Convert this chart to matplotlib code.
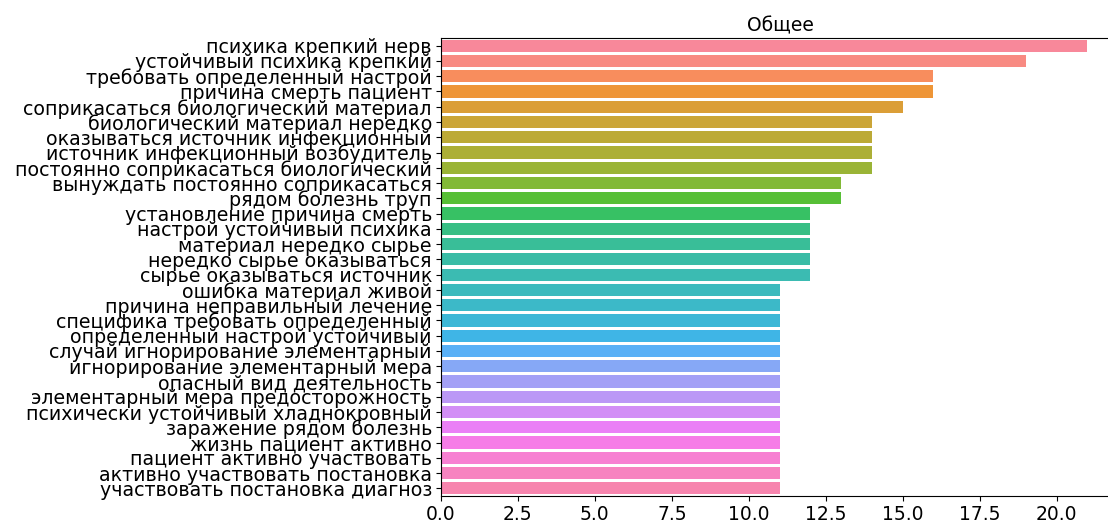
import matplotlib
matplotlib.use("Agg")
import matplotlib.pyplot as plt
import seaborn as sns

# Trigrams and their counts
labels = [
    "психика крепкий нерв",
    "устойчивый психика крепкий",
    "требовать определенный настрой",
    "причина смерть пациент",
    "соприкасаться биологический материал",
    "биологический материал нередко",
    "оказываться источник инфекционный",
    "источник инфекционный возбудитель",
    "постоянно соприкасаться биологический",
    "вынуждать постоянно соприкасаться",
    "рядом болезнь труп",
    "установление причина смерть",
    "настрой устойчивый психика",
    "материал нередко сырье",
    "нередко сырье оказываться",
    "сырье оказываться источник",
    "ошибка материал живой",
    "причина неправильный лечение",
    "специфика требовать определенный",
    "определенный настрой устойчивый",
    "случай игнорирование элементарный",
    "игнорирование элементарный мера",
    "опасный вид деятельность",
    "элементарный мера предосторожность",
    "психически устойчивый хладнокровный",
    "заражение рядом болезнь",
    "жизнь пациент активно",
    "пациент активно участвовать",
    "активно участвовать постановка",
    "участвовать постановка диагноз",
]
counts = [21, 19, 16, 16, 15, 14, 14, 14, 14, 13, 13, 12, 12, 12, 12, 12,
          11, 11, 11, 11, 11, 11, 11, 11, 11, 11, 11, 11, 11, 11]

fig = plt.figure(figsize=(11.08, 5.23), dpi=100)
# axes run past the right edge, as in the cropped original
ax = fig.add_axes([0.398, 0.0516, 0.6125, 0.8757])

colors = sns.husl_palette(len(labels), l=0.7, s=0.9)
sns.barplot(x=counts, y=labels, hue=labels, palette=colors, legend=False,
            saturation=1, ax=ax)

ax.set_title("Общее", fontsize=13.5, pad=5)
ax.set_xlabel("")
ax.set_ylabel("")
ax.tick_params(axis="y", labelsize=13.7, pad=3)
ax.tick_params(axis="x", labelsize=13.5, pad=3)

fig.savefig("out.png", dpi=100)
